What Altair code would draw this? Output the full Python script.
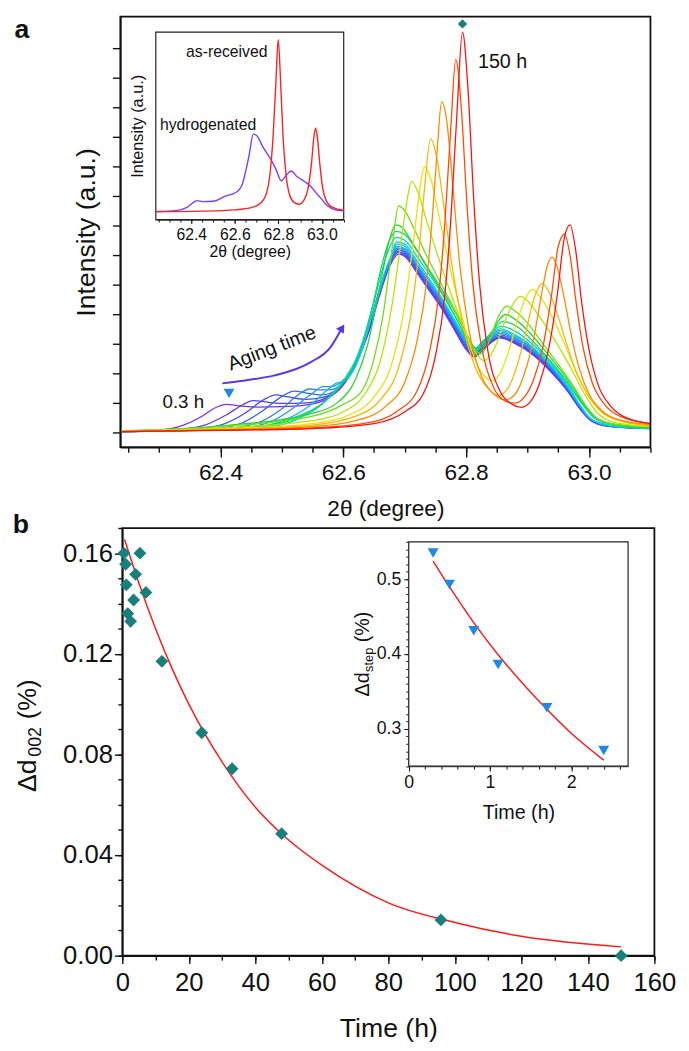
import altair as alt
import pandas as pd

FONT = "Liberation Sans"
INK = "#111111"
TEAL = "#17807b"
TRI_BLUE = "#1e88e5"
FIT_RED = "#ff1a1a"

# ======================= panel a : XRD profiles =======================
aging_labels = ["0.3 h", "0.5 h", "0.8 h", "1.1 h", "1.4 h", "1.7 h", "2.0 h", "2.4 h", "3 h",
                "4 h", "5 h", "7 h", "12 h", "24 h", "33 h", "48 h", "96 h", "150 h"]
aging_colors = ["#7b2cf5", "#5b3cf0", "#3f4ef0", "#2f66f0", "#2a80f2", "#1f9af0", "#10b8f0", "#00d0e8",
                "#00dcb0", "#10d870", "#30d030", "#70e010", "#b0e800", "#f0e000", "#ffb400", "#ff8a00",
                "#ff4a00", "#ff1010"]

tail_tt = [62.72, 62.74, 62.76, 62.78, 62.80, 62.813, 62.83, 62.855, 62.88, 62.91, 62.94, 62.965,
           62.985, 63.0, 63.02, 63.05, 63.1]

tt_03 = [62.237, 62.30, 62.34, 62.37, 62.39, 62.41, 62.43, 62.46, 62.50, 62.54, 62.57, 62.60, 62.62,
         62.64, 62.66, 62.675, 62.69, 62.70] + tail_tt
in_03 = [0.03, 0.08, 0.25, 0.55, 0.82, 0.95, 0.90, 0.86, 0.87, 0.93, 1.10, 1.60, 2.30, 3.30, 4.70, 5.60,
         6.03, 5.95, 5.40, 4.80, 4.20, 3.50, 2.80, 2.55, 2.85, 3.20, 3.00, 2.60, 2.00, 1.40, 0.80, 0.45,
         0.25, 0.17, 0.13]

tt_05 = [62.237, 62.32, 62.37, 62.41, 62.435, 62.453, 62.47, 62.50, 62.54, 62.57, 62.60, 62.62, 62.64,
         62.66, 62.675, 62.689, 62.70] + tail_tt
in_05 = [0.03, 0.08, 0.22, 0.60, 0.92, 1.08, 1.04, 0.98, 1.00, 1.15, 1.65, 2.35, 3.35, 4.80, 5.70, 6.08,
         6.00, 5.45, 4.85, 4.25, 3.55, 2.85, 2.58, 2.88, 3.22, 3.03, 2.63, 2.03, 1.42, 0.82, 0.46, 0.26,
         0.17, 0.13]

tt_08 = [62.237, 62.35, 62.40, 62.44, 62.47, 62.49, 62.51, 62.54, 62.57, 62.60, 62.62, 62.64, 62.66,
         62.675, 62.688, 62.70] + tail_tt
in_08 = [0.03, 0.10, 0.25, 0.65, 1.10, 1.27, 1.20, 1.12, 1.20, 1.70, 2.40, 3.45, 4.90, 5.75, 6.12, 6.05,
         5.50, 4.90, 4.30, 3.60, 2.90, 2.60, 2.90, 3.25, 3.06, 2.66, 2.06, 1.44, 0.84, 0.47, 0.27, 0.18,
         0.14]

tt_11 = [62.237, 62.38, 62.43, 62.47, 62.50, 62.52, 62.54, 62.565, 62.59, 62.61, 62.63, 62.65, 62.665,
         62.678, 62.688, 62.70] + tail_tt
in_11 = [0.03, 0.10, 0.28, 0.75, 1.22, 1.40, 1.33, 1.27, 1.45, 1.95, 2.85, 4.10, 5.10, 5.80, 6.18, 6.10,
         5.55, 4.95, 4.35, 3.65, 2.95, 2.65, 2.95, 3.30, 3.10, 2.70, 2.10, 1.47, 0.86, 0.48, 0.27, 0.18,
         0.14]

tt_14 = [62.237, 62.40, 62.46, 62.50, 62.525, 62.545, 62.56, 62.58, 62.60, 62.62, 62.64, 62.655, 62.668,
         62.68, 62.688, 62.70] + tail_tt
in_14 = [0.03, 0.11, 0.32, 0.80, 1.25, 1.47, 1.44, 1.45, 1.70, 2.35, 3.50, 4.50, 5.35, 5.95, 6.24, 6.16,
         5.60, 5.00, 4.40, 3.70, 3.00, 2.70, 3.00, 3.35, 3.15, 2.74, 2.13, 1.50, 0.88, 0.49, 0.28, 0.18,
         0.14]

tt_17 = [62.237, 62.42, 62.48, 62.52, 62.548, 62.567, 62.58, 62.595, 62.61, 62.625, 62.64, 62.655,
         62.668, 62.68, 62.687, 62.70] + tail_tt
in_17 = [0.03, 0.12, 0.35, 0.85, 1.30, 1.55, 1.55, 1.68, 2.00, 2.60, 3.55, 4.55, 5.40, 6.00, 6.30, 6.22,
         5.65, 5.05, 4.45, 3.75, 3.05, 2.75, 3.05, 3.40, 3.20, 2.78, 2.16, 1.52, 0.90, 0.50, 0.28, 0.19,
         0.14]

tt_20 = [62.237, 62.44, 62.50, 62.545, 62.572, 62.589, 62.60, 62.612, 62.625, 62.64, 62.655, 62.668,
         62.68, 62.687, 62.70] + tail_tt
in_20 = [0.03, 0.13, 0.38, 0.90, 1.40, 1.67, 1.72, 1.95, 2.50, 3.50, 4.50, 5.40, 6.05, 6.38, 6.30,
         5.72, 5.12, 4.50, 3.80, 3.10, 2.80, 3.10, 3.45, 3.25, 2.82, 2.20, 1.55, 0.92, 0.51, 0.29, 0.19,
         0.14]

tt_24 = [62.237, 62.46, 62.52, 62.565, 62.59, 62.605, 62.615, 62.628, 62.642, 62.656, 62.668, 62.68,
         62.686, 62.70] + tail_tt
in_24 = [0.03, 0.14, 0.40, 0.95, 1.50, 1.85, 2.05, 2.65, 3.60, 4.60, 5.45, 6.10, 6.45, 6.37,
         5.80, 5.20, 4.55, 3.85, 3.15, 2.85, 3.15, 3.50, 3.30, 2.86, 2.24, 1.58, 0.94, 0.52, 0.30, 0.19,
         0.15]

tt_3 = [62.237, 62.45, 62.52, 62.57, 62.60, 62.62, 62.635, 62.65, 62.662, 62.674, 62.686, 62.70, 62.72,
        62.74, 62.76, 62.78, 62.80, 62.816, 62.833, 62.857, 62.88, 62.91, 62.94, 62.965, 62.988, 63.005,
        63.025, 63.05, 63.1]
in_3 = [0.04, 0.16, 0.45, 1.05, 1.75, 2.45, 3.30, 4.40, 5.40, 6.20, 6.60, 6.50, 5.95, 5.35, 4.70, 4.00,
        3.25, 2.85, 3.20, 3.60, 3.42, 2.95, 2.30, 1.65, 0.98, 0.55, 0.31, 0.20, 0.15]

tt_4 = [62.237, 62.45, 62.52, 62.57, 62.60, 62.62, 62.635, 62.65, 62.662, 62.674, 62.686, 62.70, 62.72,
        62.74, 62.76, 62.78, 62.80, 62.818, 62.836, 62.86, 62.885, 62.91, 62.94, 62.965, 62.99, 63.008,
        63.03, 63.06, 63.1]
in_4 = [0.04, 0.18, 0.50, 1.05, 1.70, 2.40, 3.30, 4.50, 5.60, 6.45, 6.80, 6.70, 6.15, 5.50, 4.85, 4.15,
        3.35, 2.80, 3.25, 3.75, 3.55, 3.05, 2.35, 1.70, 0.98, 0.56, 0.32, 0.21, 0.16]

tt_5 = [62.237, 62.40, 62.55, 62.59, 62.62, 62.64, 62.66, 62.675, 62.685, 62.695, 62.71, 62.73, 62.75,
        62.77, 62.79, 62.808, 62.82, 62.835, 62.85, 62.864, 62.878, 62.90, 62.925, 62.95, 62.975, 62.995,
        63.012, 63.04, 63.1]
in_5 = [0.05, 0.22, 0.65, 1.00, 1.80, 3.00, 5.00, 6.50, 7.02, 6.95, 6.50, 5.80, 5.10, 4.40, 3.60, 2.90,
        2.70, 3.10, 3.70, 3.99, 3.85, 3.45, 2.85, 2.20, 1.50, 0.85, 0.48, 0.28, 0.18]

tt_7 = [62.237, 62.40, 62.55, 62.60, 62.63, 62.65, 62.665, 62.678, 62.69, 62.70, 62.715, 62.735, 62.755,
        62.775, 62.795, 62.812, 62.824, 62.838, 62.852, 62.866, 62.88, 62.90, 62.925, 62.95, 62.975,
        62.995, 63.012, 63.04, 63.1]
in_7 = [0.05, 0.20, 0.55, 0.95, 1.40, 2.50, 4.00, 6.00, 7.66, 7.50, 6.90, 6.00, 5.20, 4.40, 3.60, 2.85,
        2.66, 3.10, 3.90, 4.27, 4.10, 3.70, 3.00, 2.30, 1.55, 0.90, 0.50, 0.29, 0.19]

tt_12 = [62.237, 62.40, 62.55, 62.60, 62.635, 62.66, 62.68, 62.695, 62.705, 62.711, 62.72, 62.735,
         62.755, 62.775, 62.795, 62.815, 62.829, 62.845, 62.86, 62.875, 62.888, 62.90, 62.92, 62.945,
         62.97, 62.99, 63.01, 63.03, 63.06, 63.1]
in_12 = [0.05, 0.15, 0.40, 0.70, 1.30, 2.40, 4.40, 6.60, 8.00, 8.49, 8.20, 7.20, 5.90, 4.70, 3.60, 2.70,
         2.43, 2.80, 3.60, 4.30, 4.60, 4.45, 3.90, 3.10, 2.20, 1.40, 0.75, 0.42, 0.27, 0.20]

tt_24h = [62.237, 62.40, 62.55, 62.61, 62.65, 62.68, 62.70, 62.715, 62.725, 62.732, 62.742, 62.755,
          62.77, 62.79, 62.81, 62.83, 62.842, 62.855, 62.87, 62.885, 62.898, 62.908, 62.92, 62.94, 62.96,
          62.98, 63.0, 63.02, 63.045, 63.1]
in_24h = [0.04, 0.12, 0.30, 0.60, 1.20, 2.40, 4.30, 6.60, 8.30, 8.99, 8.60, 7.40, 5.90, 4.20, 2.70, 1.90,
          1.75, 2.00, 2.80, 3.90, 4.60, 4.84, 4.60, 3.90, 3.00, 2.00, 1.20, 0.70, 0.42, 0.22]

tt_33 = [62.237, 62.40, 62.55, 62.62, 62.66, 62.69, 62.71, 62.722, 62.732, 62.742, 62.752, 62.764,
         62.778, 62.795, 62.815, 62.835, 62.852, 62.868, 62.882, 62.896, 62.91, 62.924, 62.936, 62.95,
         62.965, 62.98, 63.0, 63.02, 63.045, 63.1]
in_33 = [0.04, 0.10, 0.25, 0.55, 1.10, 2.20, 4.00, 5.90, 8.20, 9.93, 9.30, 7.60, 5.50, 3.60, 2.20, 1.50,
         1.25, 1.50, 2.20, 3.30, 4.50, 5.04, 4.70, 3.90, 2.90, 2.00, 1.20, 0.70, 0.43, 0.23]

tt_48 = [62.237, 62.40, 62.55, 62.62, 62.67, 62.70, 62.72, 62.735, 62.745, 62.753, 62.76, 62.768,
         62.778, 62.79, 62.805, 62.825, 62.845, 62.864, 62.88, 62.895, 62.91, 62.922, 62.933, 62.94,
         62.948, 62.96, 62.972, 62.985, 63.0, 63.02, 63.045, 63.1]
in_48 = [0.03, 0.09, 0.20, 0.40, 0.90, 1.70, 3.10, 5.00, 7.30, 9.60, 11.18, 10.60, 8.40, 5.60, 3.40,
         1.90, 1.30, 1.10, 1.30, 2.00, 3.20, 4.60, 5.70, 5.93, 5.60, 4.50, 3.20, 2.10, 1.30, 0.75, 0.45,
         0.26]

tt_96 = [62.237, 62.40, 62.55, 62.64, 62.69, 62.72, 62.74, 62.755, 62.765, 62.775, 62.783, 62.792,
         62.801, 62.811, 62.825, 62.845, 62.865, 62.88, 62.895, 62.91, 62.925, 62.938, 62.95, 62.96,
         62.969, 62.979, 62.99, 63.005, 63.025, 63.05, 63.1]
in_96 = [0.03, 0.08, 0.15, 0.33, 0.75, 1.40, 2.70, 4.60, 7.00, 10.30, 12.62, 11.00, 7.80, 5.00, 2.90,
         1.50, 1.05, 0.99, 1.20, 1.80, 2.90, 4.50, 6.30, 6.71, 6.00, 4.40, 2.90, 1.70, 0.95, 0.55, 0.30]

tt_150 = [62.237, 62.40, 62.55, 62.65, 62.70, 62.73, 62.75, 62.765, 62.775, 62.785, 62.794, 62.803,
          62.812, 62.822, 62.835, 62.855, 62.875, 62.89, 62.905, 62.92, 62.935, 62.948, 62.96, 62.969,
          62.978, 62.988, 63.0, 63.015, 63.035, 63.06, 63.1]
in_150 = [0.03, 0.07, 0.13, 0.30, 0.70, 1.30, 2.60, 4.60, 7.20, 10.80, 13.54, 11.60, 8.00, 5.00, 2.80,
          1.40, 0.95, 0.85, 1.05, 1.70, 2.90, 4.60, 6.60, 7.02, 6.20, 4.40, 2.80, 1.60, 0.90, 0.50, 0.30]

profiles = [(tt_03, in_03), (tt_05, in_05), (tt_08, in_08), (tt_11, in_11), (tt_14, in_14),
            (tt_17, in_17), (tt_20, in_20), (tt_24, in_24), (tt_3, in_3), (tt_4, in_4), (tt_5, in_5),
            (tt_7, in_7), (tt_12, in_12), (tt_24h, in_24h), (tt_33, in_33), (tt_48, in_48),
            (tt_96, in_96), (tt_150, in_150)]

# inset of panel a
ins_tt_hyd = [62.237, 62.33, 62.38, 62.41, 62.428, 62.45, 62.50, 62.557, 62.60, 62.617, 62.635, 62.65,
              62.665, 62.685, 62.70, 62.73, 62.768, 62.79, 62.813, 62.835, 62.858, 62.885, 62.92,
              62.949, 62.975, 62.994, 63.015, 63.04, 63.07, 63.1]
ins_in_hyd = [4.3, 4.8, 6.5, 9.2, 10.1, 9.6, 9.8, 12.5, 14.2, 15.6, 19.0, 26.0, 34.0, 45.6, 44.8, 38.5,
              31.6, 26.5, 20.7, 23.5, 25.9, 23.0, 20.3, 17.7, 14.0, 11.6, 8.5, 6.3, 5.0, 4.7]
ins_tt_rec = [62.237, 62.45, 62.60, 62.68, 62.72, 62.745, 62.762, 62.776, 62.788, 62.799, 62.81,
              62.821, 62.835, 62.852, 62.872, 62.896, 62.915, 62.935, 62.952, 62.963, 62.971, 62.979,
              62.99, 63.003, 63.02, 63.045, 63.1]
ins_in_rec = [4.2, 4.5, 5.2, 6.5, 9.0, 14.0, 25.0, 45.0, 72.0, 96.0, 74.0, 45.0, 24.0, 13.0, 9.2, 8.2,
              10.0, 16.0, 30.0, 44.0, 48.7, 44.0, 30.0, 17.0, 10.0, 6.8, 5.0]

# annotation arrow "Aging time"
arrow_tt = [62.403, 62.44, 62.488, 62.547, 62.579, 62.598]
arrow_in = [1.66, 1.76, 1.93, 2.38, 2.88, 3.54]

a_x_major = [62.4, 62.6, 62.8, 63.0]
a_x_minor = [round(62.25 + 0.025 * i, 3) for i in range(35)]
a_x_minor = [v for v in a_x_minor if v not in a_x_major]
a_y_ticks = list(range(14))

# ======================= panel b : lattice relaxation =======================
time_h = [0.5, 1.0, 1.2, 1.65, 2.5, 3.4, 4.0, 5.3, 7.1, 11.9, 23.9, 33.0, 47.9, 95.8, 150.0]
d002 = [0.160, 0.1556, 0.1474, 0.136, 0.1329, 0.1414, 0.1516, 0.160, 0.1444, 0.117, 0.0886, 0.0743,
        0.0485, 0.0142, 0.0]
fit_t = [0.7, 5, 10, 15, 20, 30, 40, 50, 60, 80, 100, 120, 150]
fit_d = [0.1654, 0.148, 0.130, 0.114, 0.100, 0.077, 0.059, 0.046, 0.036, 0.021, 0.0132, 0.0077, 0.0035]

step_t = [0.3, 0.5, 0.8, 1.1, 1.7, 2.4]
d_step = [0.535, 0.493, 0.431, 0.386, 0.328, 0.271]
stepfit_t = [0.3, 0.5, 0.8, 1.1, 1.4, 1.7, 2.0, 2.4]
stepfit_d = [0.524, 0.490, 0.442, 0.399, 0.361, 0.326, 0.294, 0.258]

b_x_major = [0, 20, 40, 60, 80, 100, 120, 140, 160]
b_x_minor = [10, 30, 50, 70, 90, 110, 130, 150]
b_y_major = [0.0, 0.04, 0.08, 0.12, 0.16]
b_y_minor = [0.02, 0.06, 0.10, 0.14]
ib_x_major = [0, 1, 2]
ib_x_minor = [0.5, 1.5, 2.5]
ib_y_major = [0.3, 0.4, 0.5]
ib_y_minor = [0.35, 0.45]

# ------------------------- layout (one drawing area) -------------------------
W, H = 542, 953          # drawing area: page x 120..662, page y 6..959
OX, OY = 120, 6          # page position of the drawing-area origin

# panel scales: (domain, pixel range inside the drawing area)
SA_X = ([62.237, 63.1], [0, 538])
SA_Y = ([-0.5, 14.067], [437, 0])
SI_X = ([62.237, 63.1], [36, 226.7])
SI_Y = ([0, 100], [206, 15.7])
SB_X = ([0, 160], [2, 542])
SB_Y = ([0, 0.17], [953, 519])
SIB_X = ([0, 2.7], [292.7, 515.3])
SIB_Y = ([0.25, 0.55], [760.7, 533])


def sc(s):
    return alt.Scale(domain=s[0], range=s[1], nice=False, zero=False)


def inv(s, page_pix, origin):
    (d0, d1), (r0, r1) = s
    return d0 + (page_pix - origin - r0) * (d1 - d0) / (r1 - r0)


def X(field, s, axis=None):
    return alt.X(f"{field}:Q", scale=sc(s), axis=axis)


def Y(field, s, axis=None):
    return alt.Y(f"{field}:Q", scale=sc(s), axis=axis)


def tick_layer(vals, channel, sx, sy, axis):
    df = pd.DataFrame({"v": vals, "c": [sx[0][0] if channel == "y" else sy[0][0]] * len(vals)})
    if channel == "x":
        enc = dict(x=X("v", sx, axis), y=Y("c", sy))
    else:
        enc = dict(y=Y("v", sy, axis), x=X("c", sx))
    return alt.Chart(df).mark_point(opacity=0, size=1).encode(**enc)


def minor_axis(orient, size, width=1.4, offset=0):
    return alt.Axis(orient=orient, labels=False, domain=False, title=None, tickSize=size,
                    tickWidth=width, offset=offset)


def frame(sx, sy, width):
    df = pd.DataFrame({"x0": [sx[0][0]], "x1": [sx[0][1]], "y0": [sy[0][0]], "y1": [sy[0][1]]})
    return alt.Chart(df).mark_rect(fillOpacity=0, stroke=INK, strokeWidth=width).encode(
        x=X("x0", sx), x2="x1", y=Y("y0", sy), y2="y1")


def page_text(texts, page_x, page_y, sx, sy, **mark):
    df = pd.DataFrame({"px": [inv(sx, p, OX) for p in page_x], "py": [inv(sy, p, OY) for p in page_y],
                       "s": texts})
    return alt.Chart(df).mark_text(color=INK, **mark).encode(x=X("px", sx), y=Y("py", sy), text="s:N")


def rotated_title(pieces, page_x, page_y, sizes, sx, sy):
    df = pd.DataFrame({"px": [inv(sx, p, OX) for p in page_x], "py": [inv(sy, p, OY) for p in page_y],
                       "s": pieces, "fs": sizes})
    return alt.Chart(df).mark_text(angle=270, align="left", baseline="alphabetic", color=INK).encode(
        x=X("px", sx), y=Y("py", sy), text="s:N", size=alt.Size("fs:Q", scale=None, legend=None))


# ---------------------------- panel a ---------------------------------------
rows = []
for lab, (xs, ys) in zip(aging_labels, profiles):
    for x, y in zip(xs, ys):
        rows.append({"time": lab, "tt": x, "I": y})
df_a = pd.DataFrame(rows)

a_x_axis = alt.Axis(orient="bottom", offset=-(H - 437), values=a_x_major, format=".1f", tickSize=10,
                    title="2θ (degree)", labelFontSize=23, titleFontSize=23, labelPadding=5,
                    titlePadding=13, domainWidth=1.6, tickWidth=1.4)
a_y_axis = alt.Axis(orient="left", values=a_y_ticks, labels=False, tickSize=8, title="Intensity (a.u.)",
                    titleFontSize=27, titlePadding=11, domainWidth=1.6, tickWidth=1.4)

lines_a = alt.Chart(df_a).mark_line(interpolate="monotone", strokeWidth=1.3).encode(
    x=X("tt", SA_X, a_x_axis), y=Y("I", SA_Y, a_y_axis),
    color=alt.Color("time:N", scale=alt.Scale(domain=aging_labels, range=aging_colors), legend=None),
)
minor_a = tick_layer(a_x_minor, "x", SA_X, SA_Y, minor_axis("bottom", 5, 1.4, -(H - 437)))
frame_a = frame(SA_X, SA_Y, 1.8)

tri_a = alt.Chart(pd.DataFrame({"tt": [62.414], "I": [1.32]})).mark_point(
    shape="triangle-down", filled=True, size=120, color=TRI_BLUE, opacity=1).encode(
    x=X("tt", SA_X), y=Y("I", SA_Y))
dia_a = alt.Chart(pd.DataFrame({"tt": [62.794], "I": [13.82]})).mark_point(
    shape="diamond", filled=True, size=90, color=TEAL, opacity=1).encode(x=X("tt", SA_X), y=Y("I", SA_Y))
txt_a = alt.Chart(pd.DataFrame({"tt": [62.3056, 62.8192], "I": [1.02, 12.54], "t": ["0.3 h", "150 h"],
                                "fs": [19, 20]})).mark_text(
    align="left", baseline="middle", color=INK).encode(
    x=X("tt", SA_X), y=Y("I", SA_Y), text="t:N", size=alt.Size("fs:Q", scale=None, legend=None))
aging_txt = alt.Chart(pd.DataFrame({"tt": [62.484], "I": [2.84], "t": ["Aging time"]})).mark_text(
    align="center", baseline="middle", fontSize=20, angle=339, color=INK).encode(
    x=X("tt", SA_X), y=Y("I", SA_Y), text="t:N")
arrow_line = alt.Chart(pd.DataFrame({"tt": arrow_tt, "I": arrow_in})).mark_line(
    interpolate="monotone", strokeWidth=2, color="#5a35ee").encode(x=X("tt", SA_X), y=Y("I", SA_Y))
arrow_head = alt.Chart(pd.DataFrame({"tt": [arrow_tt[-1]], "I": [arrow_in[-1]]})).mark_point(
    shape="triangle-up", filled=True, size=90, angle=33, color="#5a35ee", opacity=1).encode(
    x=X("tt", SA_X), y=Y("I", SA_Y))
lab_a = page_text(["a"], [20], [20], SA_X, SA_Y, fontSize=27, fontWeight="bold", align="center",
                  baseline="middle")

# inset a
ins_a_xaxis = alt.Axis(orient="bottom", offset=-(H - 206), values=a_x_major, format=".1f", tickSize=4,
                       title="2θ (degree)", labelFontSize=16, titleFontSize=16, labelPadding=3,
                       titlePadding=1, domainWidth=1, tickWidth=1)
ins_a_yaxis = alt.Axis(orient="left", offset=-36, ticks=False, labels=False, domain=False,
                       title="Intensity (a.u.)", titleFontSize=16.5, titlePadding=10)
frame_ia = alt.Chart(pd.DataFrame({"x0": [62.237], "x1": [63.1], "y0": [0], "y1": [100]})).mark_rect(
    fill="white", stroke="#222222", strokeWidth=1.2).encode(
    x=X("x0", SI_X, ins_a_xaxis), x2="x1", y=Y("y0", SI_Y, ins_a_yaxis), y2="y1")
ins_minor = tick_layer(a_x_minor, "x", SI_X, SI_Y, minor_axis("bottom", 2.5, 1, -(H - 206)))
ins_hyd = alt.Chart(pd.DataFrame({"tt": ins_tt_hyd, "v": ins_in_hyd})).mark_line(
    interpolate="monotone", strokeWidth=1.4, color="#7a3cff").encode(x=X("tt", SI_X), y=Y("v", SI_Y))
ins_rec = alt.Chart(pd.DataFrame({"tt": ins_tt_rec, "v": ins_in_rec})).mark_line(
    interpolate="monotone", strokeWidth=1.4, color="#ff2020").encode(x=X("tt", SI_X), y=Y("v", SI_Y))
ins_txt = alt.Chart(pd.DataFrame({"tt": [62.563, 62.477], "v": [89.1, 50.4],
                                  "t": ["as-received", "hydrogenated"]})).mark_text(
    align="center", baseline="middle", fontSize=16, color=INK).encode(
    x=X("tt", SI_X), y=Y("v", SI_Y), text="t:N")

# ----------------------------- panel b --------------------------------------
b_x_axis = alt.Axis(orient="bottom", values=b_x_major, format="d", tickSize=8, title="Time (h)",
                    labelFontSize=26, titleFontSize=27, labelPadding=6, titlePadding=21,
                    domainWidth=1.6, tickWidth=1.4)
b_y_axis = alt.Axis(orient="left", offset=-2, values=b_y_major, format=".2f", tickSize=8, title=None,
                    labelFontSize=26, labelPadding=2, domainWidth=1.6, tickWidth=1.4)
fit_b = alt.Chart(pd.DataFrame({"t": fit_t, "d": fit_d})).mark_line(
    interpolate="monotone", strokeWidth=1.5, color=FIT_RED).encode(
    x=X("t", SB_X, b_x_axis), y=Y("d", SB_Y, b_y_axis))
minor_bx = tick_layer(b_x_minor, "x", SB_X, SB_Y, minor_axis("bottom", 4.5))
minor_by = tick_layer(b_y_minor, "y", SB_X, SB_Y, minor_axis("left", 4.5, 1.4, -2))
frame_b = frame(SB_X, SB_Y, 1.8)
dia_b = alt.Chart(pd.DataFrame({"t": time_h, "d": d002})).mark_point(
    shape="diamond", filled=True, size=170, color=TEAL, opacity=1).encode(x=X("t", SB_X), y=Y("d", SB_Y))
ytitle_b = rotated_title(["Δd", "002", "(%)"], [34, 39, 34], [793, 757, 719], [27, 18, 26], SB_X, SB_Y)
lab_b = page_text(["b"], [19], [522], SB_X, SB_Y, fontSize=27, fontWeight="bold", align="center",
                  baseline="middle")

# inset b
ib_x_axis = alt.Axis(orient="bottom", offset=-(H - 760.7), values=ib_x_major, format="d", tickSize=5,
                     title="Time (h)", labelFontSize=18, titleFontSize=20, labelPadding=3, titlePadding=11,
                     domainWidth=1, tickWidth=1)
ib_y_axis = alt.Axis(orient="left", offset=-292.7, values=ib_y_major, format=".1f", tickSize=5, title=None,
                     labelFontSize=18, labelPadding=3, domainWidth=1, tickWidth=1)
frame_ib = alt.Chart(pd.DataFrame({"x0": [0.0], "x1": [2.7], "y0": [0.25], "y1": [0.55]})).mark_rect(
    fill="white", stroke="#222222", strokeWidth=1.2).encode(
    x=X("x0", SIB_X, ib_x_axis), x2="x1", y=Y("y0", SIB_Y, ib_y_axis), y2="y1")
minor_ibx = tick_layer(ib_x_minor, "x", SIB_X, SIB_Y, minor_axis("bottom", 3, 1, -(H - 760.7)))
minor_iby = tick_layer(ib_y_minor, "y", SIB_X, SIB_Y, minor_axis("left", 3, 1, -292.7))
fit_ib = alt.Chart(pd.DataFrame({"t": stepfit_t, "d": stepfit_d})).mark_line(
    interpolate="monotone", strokeWidth=1.5, color=FIT_RED).encode(x=X("t", SIB_X), y=Y("d", SIB_Y))
tri_ib = alt.Chart(pd.DataFrame({"t": step_t, "d": d_step})).mark_point(
    shape="triangle-down", filled=True, size=125, color=TRI_BLUE, opacity=1).encode(
    x=X("t", SIB_X), y=Y("d", SIB_Y))
ytitle_ib = rotated_title(["Δd", "step", "(%)"], [372, 376, 372], [696, 671, 641], [20, 13, 20],
                          SB_X, SB_Y)

chart = alt.layer(
    lines_a, minor_a, frame_a, arrow_line, arrow_head, tri_a, dia_a, txt_a, aging_txt, lab_a,
    frame_ia, ins_minor, ins_hyd, ins_rec, ins_txt,
    fit_b, minor_bx, minor_by, frame_b, dia_b, ytitle_b, lab_b,
    frame_ib, minor_ibx, minor_iby, fit_ib, tri_ib, ytitle_ib,
).resolve_scale(x="independent", y="independent").properties(
    width=W, height=H, padding={"left": 4, "top": 0, "right": 5, "bottom": 2}
).configure_view(strokeWidth=0).configure_axis(
    domainColor=INK, tickColor=INK, labelColor=INK, titleColor=INK, labelFont=FONT, titleFont=FONT,
    titleFontWeight="normal", grid=False, labelFlush=False, labelOverlap=False, labelBound=False
).configure_text(font=FONT)

chart.save("out.html", embed_options={"renderer": "svg", "actions": False})
